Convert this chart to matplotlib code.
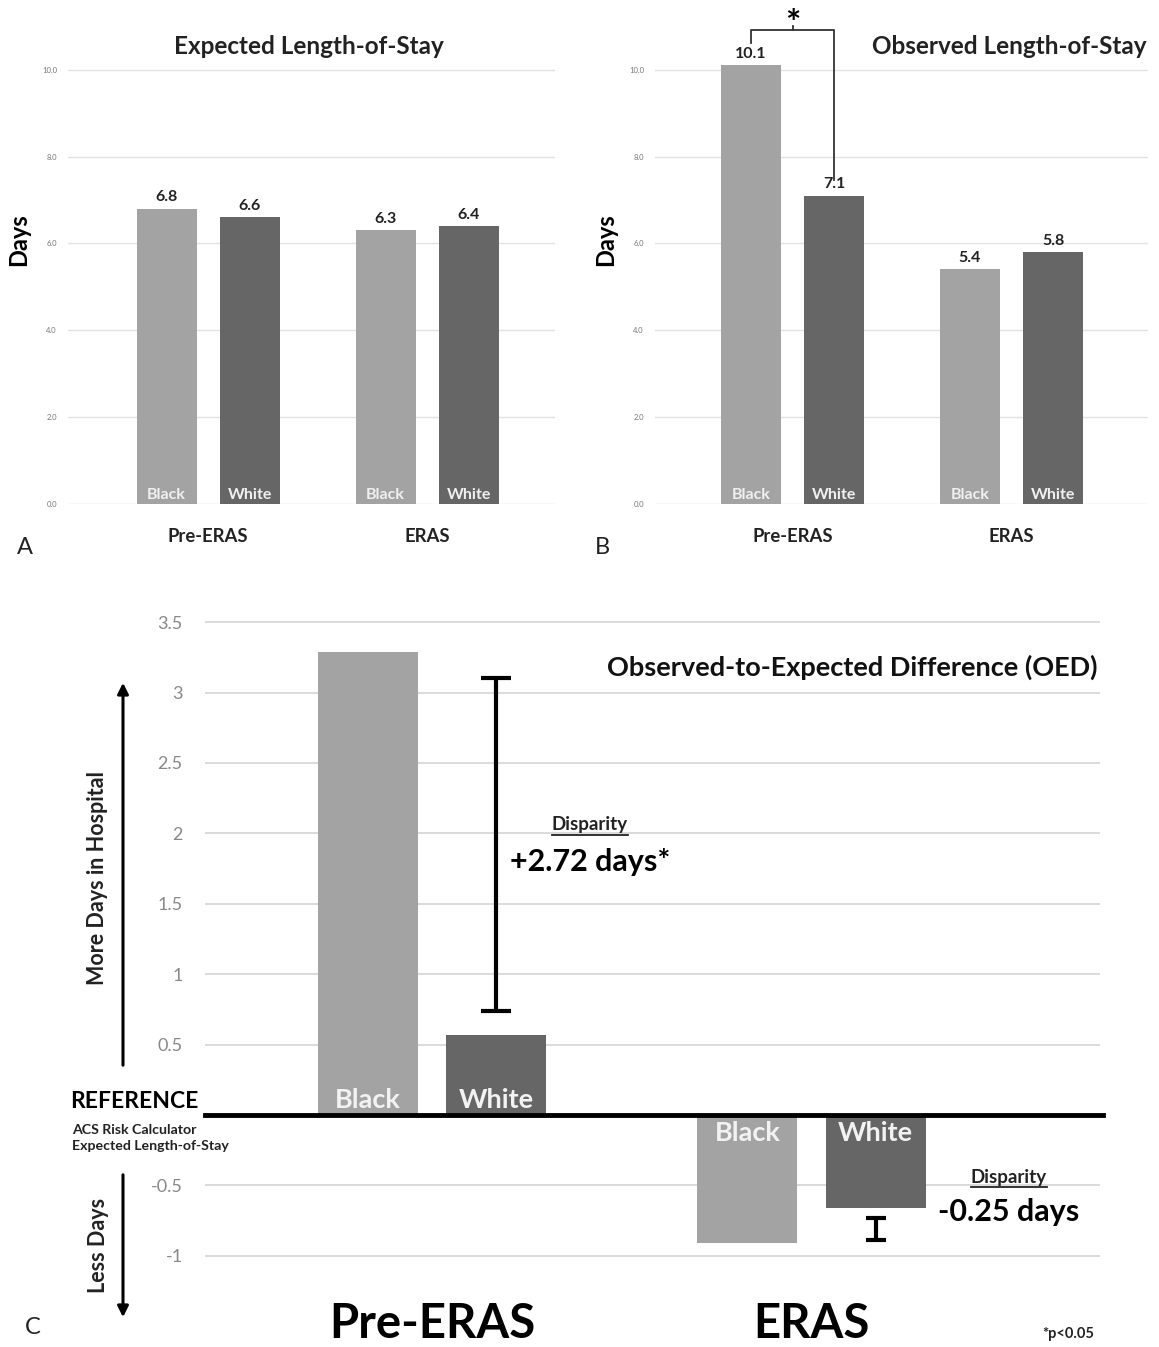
import matplotlib.pyplot as plt
from matplotlib.patches import FancyArrowPatch
import numpy as np

plt.rcParams['font.family'] = ['Lato', 'DejaVu Sans']

# ---- data
groups = ['Pre-ERAS', 'ERAS']
races = ['Black', 'White']
expected_black = [6.8, 6.3]
expected_white = [6.6, 6.4]
observed_black = [10.1, 5.4]
observed_white = [7.1, 5.8]
oed_black = [3.29, -0.91]
oed_white = [0.57, -0.66]
disp_low = [0.74, -0.89]
disp_high = [3.10, -0.73]
disp_text = ['+2.72 days*', '-0.25 days']
c_ticks = [-1, -0.5, 0.5, 1, 1.5, 2, 2.5, 3, 3.5]
c_ticklabels = ['-1', '-0.5', '0.5', '1', '1.5', '2', '2.5', '3', '3.5']

light = '#a3a3a3'
dark = '#666666'
W, H = 1159, 1347
fig = plt.figure(figsize=(W / 100, H / 100), dpi=100)


def px_axes(x0, x1, ytop, ybot):
    return fig.add_axes([x0 / W, 1 - ybot / H, (x1 - x0) / W, (ybot - ytop) / H])


def top_panel(ax, black, white):
    x = np.arange(len(groups))
    off, bw = 0.19, 0.274
    ax.bar(x - off, black, bw, color=light, zorder=2)
    ax.bar(x + off, white, bw, color=dark, zorder=2)
    for i in range(len(groups)):
        for xpos, val, name in [(x[i] - off, black[i], races[0]), (x[i] + off, white[i], races[1])]:
            ax.text(xpos, val + 0.1, '%.1f' % val, ha='center', va='bottom',
                    fontsize=11.5, fontweight='bold', color='#222222')
            ax.text(xpos, 0.04, name, ha='center', va='bottom', fontsize=11.5,
                    fontweight='bold', color='#f0f0f0', zorder=3)
    # 0..10 spans px 504..70, leave headroom above
    ax.set_ylim(0, 10.5)
    ax.set_yticks(np.arange(0, 11, 2))
    ax.set_yticklabels(['%.1f' % v for v in np.arange(0, 11, 2)], fontsize=5.5, color='#777777')
    ax.set_xticks(x)
    ax.set_xticklabels(groups, fontsize=13.3, fontweight='bold', color='#222222')
    ax.tick_params(length=0, axis='y', pad=8)
    ax.tick_params(length=0, axis='x', pad=17)
    ax.grid(axis='y', color='#e2e2e2', lw=1, zorder=0)
    for s in ax.spines.values():
        s.set_visible(False)
    ax.set_ylabel('Days', fontsize=17, fontweight='bold')
    ax.yaxis.set_label_coords(-0.077, 0.579)
    return x, off


# ---- panel A
axA = px_axes(68, 555, 48, 504)
axA.set_xlim(-0.64, 1.584)
top_panel(axA, expected_black, expected_white)
axA.text(0.495, 10.53, 'Expected Length-of-Stay', transform=axA.get_yaxis_transform(),
         ha='center', va='center', fontsize=17.5, fontweight='bold', color='#222222', clip_on=False)

# ---- panel B
axB = px_axes(655, 1148, 48, 504)
axB.set_xlim(-0.628, 1.623)
xb, offb = top_panel(axB, observed_black, observed_white)
axB.text(0.997, 10.53, 'Observed Length-of-Stay', transform=axB.get_yaxis_transform(),
         ha='right', va='center', fontsize=17.5, fontweight='bold', color='#222222', clip_on=False)
# significance bracket
axB.plot([xb[0] - offb, xb[0] - offb, xb[0] + offb, xb[0] + offb],
         [10.62, 10.92, 10.92, 7.47], color='#333333', lw=1.3, clip_on=False)
axB.plot([xb[0], xb[0]], [10.92, 11.0], color='#333333', lw=1.3, clip_on=False)
axB.text(xb[0], 10.8, '*', ha='center', va='baseline', fontsize=26, fontweight='bold', clip_on=False)

# ---- panel C
axC = px_axes(205, 1100, 601, 1277)
xc = np.arange(len(groups))
offc, bwc = 0.169, 0.2635
axC.bar(xc - offc, oed_black, bwc, color=light, zorder=2)
axC.bar(xc + offc, oed_white, bwc, color=dark, zorder=2)
axC.set_xlim(-0.598, 1.76)
axC.set_ylim(-1.15, 3.65)
axC.set_yticks(c_ticks)
axC.set_yticklabels(c_ticklabels, fontsize=13, color='#888888')
axC.tick_params(length=0, axis='y', pad=16)
axC.set_xticks([])
axC.grid(axis='y', color='#d8d8d8', lw=1.3, zorder=0)
for s in axC.spines.values():
    s.set_visible(False)
axC.axhline(0, color='black', lw=3.5, zorder=4, xmax=1.003, clip_on=False)

for i in range(len(groups)):
    for xpos, val, name in [(xc[i] - offc, oed_black[i], races[0]), (xc[i] + offc, oed_white[i], races[1])]:
        if val > 0:
            axC.text(xpos, 0.02, name, ha='center', va='bottom', fontsize=19.5,
                     fontweight='bold', color='#f2f2f2', zorder=5)
        else:
            axC.text(xpos, -0.04, name, ha='center', va='top', fontsize=19.5,
                     fontweight='bold', color='#f2f2f2', zorder=5)
    # disparity range bar over the White bar
    axC.errorbar(xc[i] + offc, (disp_low[i] + disp_high[i]) / 2,
                 yerr=(disp_high[i] - disp_low[i]) / 2, fmt='none', ecolor='black',
                 elinewidth=3, capsize=11 if i == 0 else 7.5, capthick=3, zorder=5)
    axC.text(xc[i], -1.325, groups[i], ha='center', va='top', fontsize=34,
             fontweight='bold', color='black', clip_on=False)

# disparity labels
lab_pos = [(0.430, 2.06, 1.80), (0.898, -0.44, -0.69)]
disp_titles = []
for i, (tx, ty, vy) in enumerate(lab_pos):
    t = axC.text(tx, ty, 'Disparity', transform=axC.get_yaxis_transform(), ha='center',
                 va='center', fontsize=13.5, fontweight='bold', color='#222222')
    disp_titles.append(t)
    axC.text(tx, vy, disp_text[i], transform=axC.get_yaxis_transform(), ha='center',
             va='center', fontsize=22, fontweight='bold', color='black')

axC.text(0.9975, 3.18, 'Observed-to-Expected Difference (OED)', transform=axC.get_yaxis_transform(),
         ha='right', va='center', fontsize=19.5, fontweight='bold', color='#111111')

# left side annotations
fig.text(198 / W, 1 - 1102 / H, 'REFERENCE', ha='right', va='center', fontsize=16.5,
         fontweight='bold', color='black')
fig.text(72 / W, 1 - 1130 / H, 'ACS Risk Calculator', ha='left', va='center', fontsize=10.2,
         fontweight='bold', color='#222222')
fig.text(72 / W, 1 - 1146 / H, 'Expected Length-of-Stay', ha='left', va='center', fontsize=10.2,
         fontweight='bold', color='#222222')
fig.text(98 / W, 1 - 878 / H, 'More Days in Hospital', rotation=90, ha='center', va='center',
         fontsize=15.5, fontweight='bold', color='#222222')
fig.text(98 / W, 1 - 1245 / H, 'Less Days', rotation=90, ha='center', va='center',
         fontsize=15.5, fontweight='bold', color='#222222')
arrow_kw = dict(arrowstyle='-|>', color='black', lw=2.2, mutation_scale=16)
fig.add_artist(FancyArrowPatch((123 / W, 1 - 1068 / H), (123 / W, 1 - 680 / H),
                               transform=fig.transFigure, **arrow_kw))
fig.add_artist(FancyArrowPatch((123 / W, 1 - 1172 / H), (123 / W, 1 - 1320 / H),
                               transform=fig.transFigure, **arrow_kw))
fig.text(1068 / W, 1 - 1334 / H, '*p<0.05', ha='center', va='center', fontsize=10.5,
         fontweight='bold', color='#222222')

# panel letters
fig.text(25 / W, 1 - 548 / H, 'A', ha='center', va='center', fontsize=17, color='#222222')
fig.text(602 / W, 1 - 548 / H, 'B', ha='center', va='center', fontsize=17, color='#222222')
fig.text(33 / W, 1 - 1328 / H, 'C', ha='center', va='center', fontsize=17, color='#222222')

# underline the "Disparity" headings
fig.canvas.draw()
r = fig.canvas.get_renderer()
for t in disp_titles:
    bb = t.get_window_extent(r).transformed(fig.transFigure.inverted())
    fig.add_artist(plt.Line2D([bb.x0, bb.x1], [bb.y0 - 0.001, bb.y0 - 0.001],
                              transform=fig.transFigure, color='#222222', lw=1.3))

fig.savefig('out.png', dpi=100)
